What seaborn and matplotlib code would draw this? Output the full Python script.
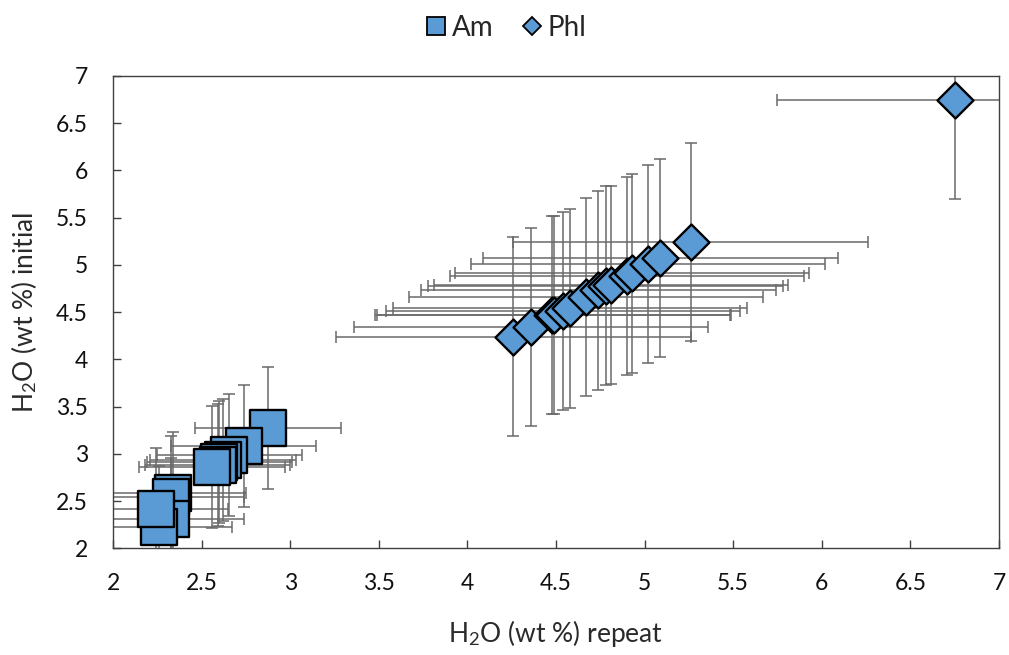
import matplotlib
matplotlib.use("Agg")
import matplotlib.pyplot as plt
import seaborn as sns
import pandas as pd
from matplotlib.lines import Line2D

# ---- data ----
am_x = [2.875, 2.737, 2.657, 2.62, 2.60, 2.59, 2.558, 2.34, 2.33, 2.33, 2.26, 2.24]
am_y = [3.27, 3.085, 2.985, 2.93, 2.91, 2.88, 2.86, 2.59, 2.54, 2.31, 2.23, 2.42]
am_xerr = [0.41] * len(am_x)
am_yerr = [0.645] * len(am_x)

phl_x = [4.26, 4.36, 4.48, 4.49, 4.54, 4.58, 4.67, 4.74, 4.78, 4.81, 4.90, 4.93, 5.02, 5.09, 5.26, 6.75]
phl_y = [4.24, 4.34, 4.47, 4.47, 4.51, 4.54, 4.66, 4.73, 4.78, 4.79, 4.88, 4.91, 5.01, 5.07, 5.24, 6.75]
phl_xerr = [1.0] * len(phl_x)
phl_yerr = [1.05] * len(phl_x)

series_names = ["Am", "Phl"]
x_ticks = [2, 2.5, 3, 3.5, 4, 4.5, 5, 5.5, 6, 6.5, 7]
y_ticks = [2, 2.5, 3, 3.5, 4, 4.5, 5, 5.5, 6, 6.5, 7]

# ---- style ----
sns.set_theme(style="white")
plt.rcParams['font.family'] = ['Lato', 'DejaVu Sans']
plt.rcParams['mathtext.fontset'] = 'custom'
plt.rcParams['mathtext.rm'] = 'Lato'
plt.rcParams['mathtext.it'] = 'Lato:italic'
plt.rcParams['mathtext.bf'] = 'Lato:bold'

face = "#5B9BD5"
errc = "#6a6a6a"

fig = plt.figure(figsize=(10.09, 6.55), dpi=100)
ax = fig.add_axes([0.112, 0.163, 0.878, 0.721])

df = pd.concat([
    pd.DataFrame({"x": am_x, "y": am_y, "Mineral": series_names[0]}),
    pd.DataFrame({"x": phl_x, "y": phl_y, "Mineral": series_names[1]}),
], ignore_index=True)

# error bars behind markers
ax.errorbar(am_x, am_y, xerr=am_xerr, yerr=am_yerr, fmt='none', ecolor=errc,
            elinewidth=1.1, capsize=4.3, capthick=1.1, zorder=1)
ax.errorbar(phl_x, phl_y, xerr=phl_xerr, yerr=phl_yerr, fmt='none', ecolor=errc,
            elinewidth=1.1, capsize=4.3, capthick=1.1, zorder=1)

sns.scatterplot(data=df[df.Mineral == "Am"], x="x", y="y", marker="s", s=26 ** 2,
                color=face, edgecolor="black", linewidth=1.7, ax=ax, zorder=3,
                legend=False)
sns.scatterplot(data=df[df.Mineral == "Phl"], x="x", y="y", marker="D", s=18.3 ** 2,
                color=face, edgecolor="black", linewidth=1.7, ax=ax, zorder=3,
                legend=False)

ax.set_xlim(2, 7)
ax.set_ylim(2, 7)
ax.set_xticks(x_ticks)
ax.set_yticks(y_ticks)
ax.set_xticklabels([f"{t:g}" for t in x_ticks])
ax.set_yticklabels([f"{t:g}" for t in y_ticks])
ax.tick_params(direction="in", length=6, width=1, color="#404040",
               labelsize=16.5, labelcolor="#111111", pad=18,
               bottom=True, left=True)
for s in ax.spines.values():
    s.set_color("#404040")
    s.set_linewidth(1.0)

ax.set_xlabel(r"H$_2$O (wt %) repeat", fontsize=19, color="#2a2a2a", labelpad=17)
ax.set_ylabel(r"H$_2$O (wt %) initial", fontsize=19, color="#2a2a2a", labelpad=12)

handles = [
    Line2D([], [], linestyle="none", marker="s", markersize=12.5, markerfacecolor=face,
           markeredgecolor="black", markeredgewidth=1.3),
    Line2D([], [], linestyle="none", marker="D", markersize=9, markerfacecolor=face,
           markeredgecolor="black", markeredgewidth=1.3),
]
fig.legend(handles, series_names, loc="upper center", bbox_to_anchor=(0.50, 1.016),
           ncol=2, frameon=False, fontsize=20, handletextpad=0.05, columnspacing=0.9,
           handlelength=1.0)

fig.savefig("out.png", dpi=100)
